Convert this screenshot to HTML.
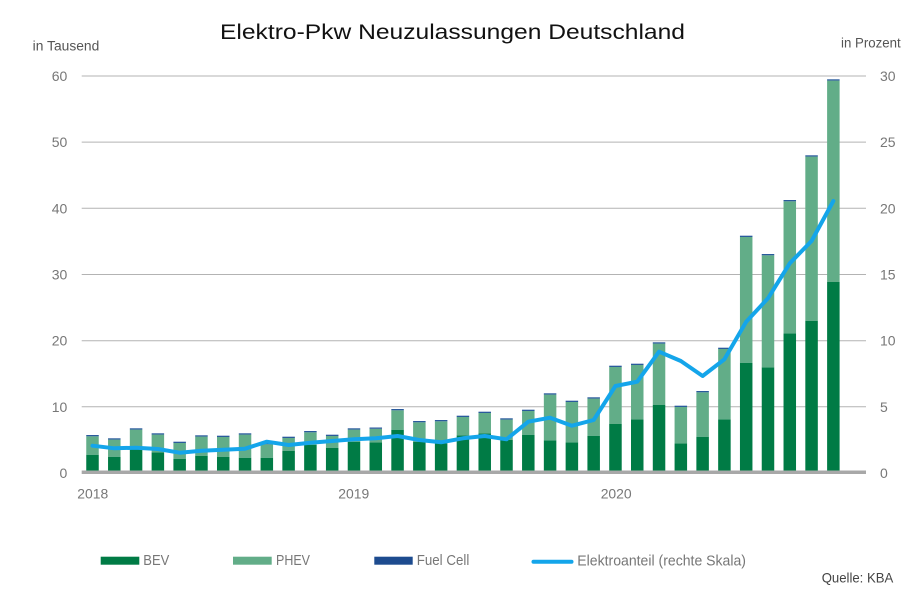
<!DOCTYPE html>
<html><head><meta charset="utf-8"><style>
html,body{margin:0;padding:0;background:#fff;}
svg{display:block;font-family:"Liberation Sans",sans-serif;}
</style></head><body>
<svg width="906" height="593" viewBox="0 0 906 593" xmlns="http://www.w3.org/2000/svg">
<rect width="906" height="593" fill="#fff"/>
<text x="220" y="39" font-size="21" fill="#111" textLength="465" lengthAdjust="spacingAndGlyphs">Elektro-Pkw Neuzulassungen Deutschland</text>
<text x="32.7" y="50.7" font-size="13.5" fill="#555" textLength="66.6" lengthAdjust="spacingAndGlyphs">in Tausend</text>
<text x="841" y="47.5" font-size="13.5" fill="#555" textLength="59.7" lengthAdjust="spacingAndGlyphs">in Prozent</text>
<g stroke="#b3b3b3" stroke-width="1">
<line x1="81.7" y1="76" x2="866" y2="76"/>
<line x1="81.7" y1="142.1" x2="866" y2="142.1"/>
<line x1="81.7" y1="208.3" x2="866" y2="208.3"/>
<line x1="81.7" y1="274.5" x2="866" y2="274.5"/>
<line x1="81.7" y1="340.7" x2="866" y2="340.7"/>
<line x1="81.7" y1="406.8" x2="866" y2="406.8"/>
</g>
<g font-size="14" fill="#777" text-anchor="end">
<text x="67.3" y="81">60</text>
<text x="67.3" y="147.1">50</text>
<text x="67.3" y="213.3">40</text>
<text x="67.3" y="279.5">30</text>
<text x="67.3" y="345.7">20</text>
<text x="67.3" y="411.8">10</text>
<text x="67.3" y="478">0</text>
</g>
<g font-size="14" fill="#777">
<text x="880" y="81">30</text>
<text x="880" y="147.1">25</text>
<text x="880" y="213.3">20</text>
<text x="880" y="279.5">15</text>
<text x="880" y="345.7">10</text>
<text x="880" y="411.8">5</text>
<text x="880" y="478">0</text>
</g>
<g font-size="14" fill="#777">
<text x="77.3" y="498.3" textLength="31" lengthAdjust="spacingAndGlyphs">2018</text>
<text x="338.3" y="498.3" textLength="31" lengthAdjust="spacingAndGlyphs">2019</text>
<text x="600.7" y="498.3" textLength="31" lengthAdjust="spacingAndGlyphs">2020</text>
</g>
<!-- BEV -->
<g fill="#007b45">
<rect x="86.25" y="454.7" width="12.5" height="16.3"/>
<rect x="108.04" y="456.7" width="12.5" height="14.3"/>
<rect x="129.83" y="449" width="12.5" height="22"/>
<rect x="151.62" y="452.3" width="12.5" height="18.7"/>
<rect x="173.41" y="458.7" width="12.5" height="12.3"/>
<rect x="195.2" y="455.7" width="12.5" height="15.3"/>
<rect x="216.99" y="456.7" width="12.5" height="14.3"/>
<rect x="238.78" y="457.7" width="12.5" height="13.3"/>
<rect x="260.57" y="457.7" width="12.5" height="13.3"/>
<rect x="282.36" y="450.7" width="12.5" height="20.3"/>
<rect x="304.15" y="445" width="12.5" height="26"/>
<rect x="325.94" y="447.7" width="12.5" height="23.3"/>
<rect x="347.73" y="441.7" width="12.5" height="29.3"/>
<rect x="369.52" y="442.3" width="12.5" height="28.7"/>
<rect x="391.31" y="429.7" width="12.5" height="41.3"/>
<rect x="413.1" y="441.7" width="12.5" height="29.3"/>
<rect x="434.89" y="443.3" width="12.5" height="27.7"/>
<rect x="456.68" y="435.3" width="12.5" height="35.7"/>
<rect x="478.47" y="433.3" width="12.5" height="37.7"/>
<rect x="500.26" y="440" width="12.5" height="31"/>
<rect x="522.05" y="434.7" width="12.5" height="36.3"/>
<rect x="543.84" y="440.3" width="12.5" height="30.7"/>
<rect x="565.63" y="442.3" width="12.5" height="28.7"/>
<rect x="587.42" y="435.7" width="12.5" height="35.3"/>
<rect x="609.21" y="424" width="12.5" height="47"/>
<rect x="631" y="419.3" width="12.5" height="51.7"/>
<rect x="652.79" y="405" width="12.5" height="66"/>
<rect x="674.58" y="443.3" width="12.5" height="27.7"/>
<rect x="696.37" y="436.7" width="12.5" height="34.3"/>
<rect x="718.16" y="419.3" width="12.5" height="51.7"/>
<rect x="739.95" y="362.7" width="12.5" height="108.3"/>
<rect x="761.74" y="367.3" width="12.5" height="103.7"/>
<rect x="783.53" y="333.3" width="12.5" height="137.7"/>
<rect x="805.32" y="320.7" width="12.5" height="150.3"/>
<rect x="827.11" y="282" width="12.5" height="189"/>
</g>
<!-- PHEV -->
<g fill="#62ad88">
<rect x="86.25" y="436.3" width="12.5" height="18.4"/>
<rect x="108.04" y="439.6" width="12.5" height="17.1"/>
<rect x="129.83" y="429.6" width="12.5" height="19.4"/>
<rect x="151.62" y="434.6" width="12.5" height="17.7"/>
<rect x="173.41" y="443" width="12.5" height="15.7"/>
<rect x="195.2" y="436.6" width="12.5" height="19.1"/>
<rect x="216.99" y="437" width="12.5" height="19.7"/>
<rect x="238.78" y="434.6" width="12.5" height="23.1"/>
<rect x="260.57" y="444.3" width="12.5" height="13.4"/>
<rect x="282.36" y="438" width="12.5" height="12.7"/>
<rect x="304.15" y="432.3" width="12.5" height="12.7"/>
<rect x="325.94" y="436" width="12.5" height="11.7"/>
<rect x="347.73" y="429.6" width="12.5" height="12.1"/>
<rect x="369.52" y="428.8" width="12.5" height="13.5"/>
<rect x="391.31" y="410.3" width="12.5" height="19.4"/>
<rect x="413.1" y="422.3" width="12.5" height="19.4"/>
<rect x="434.89" y="421.3" width="12.5" height="22"/>
<rect x="456.68" y="417" width="12.5" height="18.3"/>
<rect x="478.47" y="413" width="12.5" height="20.3"/>
<rect x="500.26" y="419.6" width="12.5" height="20.4"/>
<rect x="522.05" y="411" width="12.5" height="23.7"/>
<rect x="543.84" y="394.6" width="12.5" height="45.7"/>
<rect x="565.63" y="402" width="12.5" height="40.3"/>
<rect x="587.42" y="398.6" width="12.5" height="37.1"/>
<rect x="609.21" y="367" width="12.5" height="57"/>
<rect x="631" y="365" width="12.5" height="54.3"/>
<rect x="652.79" y="343.6" width="12.5" height="61.4"/>
<rect x="674.58" y="407" width="12.5" height="36.3"/>
<rect x="696.37" y="392.3" width="12.5" height="44.4"/>
<rect x="718.16" y="349" width="12.5" height="70.3"/>
<rect x="739.95" y="237" width="12.5" height="125.7"/>
<rect x="761.74" y="255.3" width="12.5" height="112"/>
<rect x="783.53" y="201.3" width="12.5" height="132"/>
<rect x="805.32" y="156.6" width="12.5" height="164.1"/>
<rect x="827.11" y="80.6" width="12.5" height="201.4"/>
</g>
<!-- Fuel Cell -->
<g fill="#2a5a9c">
<rect x="86.25" y="435" width="12.5" height="1.3"/>
<rect x="108.04" y="438.3" width="12.5" height="1.3"/>
<rect x="129.83" y="428.3" width="12.5" height="1.3"/>
<rect x="151.62" y="433.3" width="12.5" height="1.3"/>
<rect x="173.41" y="441.7" width="12.5" height="1.3"/>
<rect x="195.2" y="435.3" width="12.5" height="1.3"/>
<rect x="216.99" y="435.7" width="12.5" height="1.3"/>
<rect x="238.78" y="433.3" width="12.5" height="1.3"/>
<rect x="260.57" y="443" width="12.5" height="1.3"/>
<rect x="282.36" y="436.7" width="12.5" height="1.3"/>
<rect x="304.15" y="431" width="12.5" height="1.3"/>
<rect x="325.94" y="434.7" width="12.5" height="1.3"/>
<rect x="347.73" y="428.3" width="12.5" height="1.3"/>
<rect x="369.52" y="427.5" width="12.5" height="1.3"/>
<rect x="391.31" y="409" width="12.5" height="1.3"/>
<rect x="413.1" y="421" width="12.5" height="1.3"/>
<rect x="434.89" y="420" width="12.5" height="1.3"/>
<rect x="456.68" y="415.7" width="12.5" height="1.3"/>
<rect x="478.47" y="411.7" width="12.5" height="1.3"/>
<rect x="500.26" y="418.3" width="12.5" height="1.3"/>
<rect x="522.05" y="409.7" width="12.5" height="1.3"/>
<rect x="543.84" y="393.3" width="12.5" height="1.3"/>
<rect x="565.63" y="400.7" width="12.5" height="1.3"/>
<rect x="587.42" y="397.3" width="12.5" height="1.3"/>
<rect x="609.21" y="365.7" width="12.5" height="1.3"/>
<rect x="631" y="363.7" width="12.5" height="1.3"/>
<rect x="652.79" y="342.3" width="12.5" height="1.3"/>
<rect x="674.58" y="405.7" width="12.5" height="1.3"/>
<rect x="696.37" y="391" width="12.5" height="1.3"/>
<rect x="718.16" y="347.7" width="12.5" height="1.3"/>
<rect x="739.95" y="235.7" width="12.5" height="1.3"/>
<rect x="761.74" y="254" width="12.5" height="1.3"/>
<rect x="783.53" y="200" width="12.5" height="1.3"/>
<rect x="805.32" y="155.3" width="12.5" height="1.3"/>
<rect x="827.11" y="79.3" width="12.5" height="1.3"/>
</g>
<rect x="81.7" y="470.5" width="784.3" height="3.5" fill="#a8a8a8"/>
<polyline fill="none" stroke="#14a5ea" stroke-width="4" stroke-linejoin="round" stroke-linecap="round" points="92.5,445.7 114.29,448.3 136.08,447.7 157.87,449 179.66,452.7 201.45,450.7 223.24,449.7 245.03,448.7 266.82,441.7 288.61,445 310.4,442.7 332.19,441 353.98,439.3 375.77,438.3 397.56,436 419.35,440 441.14,442.3 462.93,438.3 484.72,436 506.51,439.3 528.3,421.7 550.09,417.7 571.88,425.7 593.67,420 615.46,386 637.25,381.7 659.04,351.7 680.83,361 702.62,376 724.41,359.3 746.2,321.7 767.99,298.3 789.78,263.3 811.57,241 833.36,201"/>
<!-- Legend -->
<rect x="100.7" y="556.7" width="38.6" height="8" fill="#007b45"/>
<text x="143.3" y="565" font-size="15" fill="#777" textLength="26" lengthAdjust="spacingAndGlyphs">BEV</text>
<rect x="233" y="556.7" width="38.7" height="8" fill="#62ad88"/>
<text x="276" y="565" font-size="15" fill="#777" textLength="34" lengthAdjust="spacingAndGlyphs">PHEV</text>
<rect x="374.3" y="556.7" width="38.4" height="8" fill="#1d4b8f"/>
<text x="416.7" y="565" font-size="15" fill="#777" textLength="52.6" lengthAdjust="spacingAndGlyphs">Fuel Cell</text>
<line x1="533.5" y1="561.7" x2="571.5" y2="561.7" stroke="#14a5ea" stroke-width="4" stroke-linecap="round"/>
<text x="577.3" y="565.7" font-size="15" fill="#777" textLength="168.7" lengthAdjust="spacingAndGlyphs">Elektroanteil (rechte Skala)</text>
<text x="821.7" y="582.7" font-size="14" fill="#444" textLength="71.6" lengthAdjust="spacingAndGlyphs">Quelle: KBA</text>
</svg>
</body></html>
